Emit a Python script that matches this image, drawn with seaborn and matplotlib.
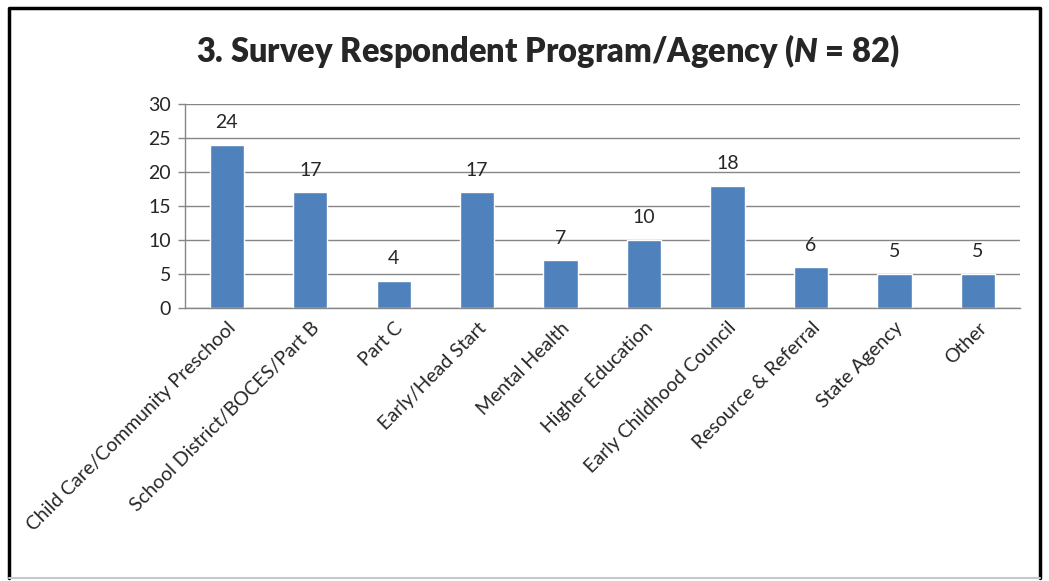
import pandas as pd
import seaborn as sns
import matplotlib.pyplot as plt
from matplotlib.lines import Line2D

categories = ['Child Care/Community Preschool', 'School District/BOCES/Part B', 'Part C',
              'Early/Head Start', 'Mental Health', 'Higher Education',
              'Early Childhood Council', 'Resource & Referral', 'State Agency', 'Other']
counts = [24, 17, 4, 17, 7, 10, 18, 6, 5, 5]
y_ticks = [0, 5, 10, 15, 20, 25, 30]

df = pd.DataFrame({'program': categories, 'count': counts})

sns.set_style('white')
plt.rcParams['font.family'] = ['Lato', 'DejaVu Sans']
plt.rcParams['mathtext.fontset'] = 'custom'
plt.rcParams['mathtext.it'] = 'Lato:italic:heavy'

fig = plt.figure(figsize=(10.49, 5.81), dpi=100)
ax = fig.add_axes([0.1764, 0.470, 0.7956, 0.351])

sns.barplot(data=df, x='program', y='count', color='#4f81bd', width=0.41,
            saturation=1, ax=ax)

ax.set_ylim(0, 30)
ax.set_xlim(-0.5, len(categories) - 0.5)
ax.set_yticks(y_ticks)
ax.yaxis.grid(True, color='#868686', linewidth=1)
ax.set_axisbelow(True)
ax.set_xlabel('')
ax.set_ylabel('')

for side in ['top', 'right']:
    ax.spines[side].set_visible(False)
for side in ['left', 'bottom']:
    ax.spines[side].set_color('#868686')
    ax.spines[side].set_linewidth(1)

# x ticks sit between categories
ax.set_xticks([i - 0.5 for i in range(len(categories) + 1)], minor=True)
ax.tick_params(axis='x', which='major', length=0, labelsize=14, pad=8)
ax.tick_params(axis='x', which='minor', length=5, color='#868686', width=1)
ax.tick_params(axis='y', length=5, color='#868686', width=1, labelsize=14, pad=5, left=True)
ax.set_xticks(range(len(categories)))
ax.set_xticklabels(categories, rotation=45, ha='right', rotation_mode='anchor')

for i, v in enumerate(counts):
    ax.text(i, v + 2, str(v), ha='center', va='bottom', fontsize=14)

fig.text(0.522, 0.913, r'3. Survey Respondent Program/Agency ($N$ = 82)', ha='center',
         va='center', fontsize=23.5, fontweight='heavy')

# frame around the chart
tf = fig.transFigure
fig.lines.append(Line2D([0.009, 0.009, 0.991, 0.991], [0.005, 0.987, 0.987, 0.005],
                        transform=tf, color='black', linewidth=2.5))
fig.lines.append(Line2D([0.009, 0.991], [0.005, 0.005], transform=tf,
                        color='#c8c8c8', linewidth=1.5))

fig.savefig('out.png', dpi=100)
